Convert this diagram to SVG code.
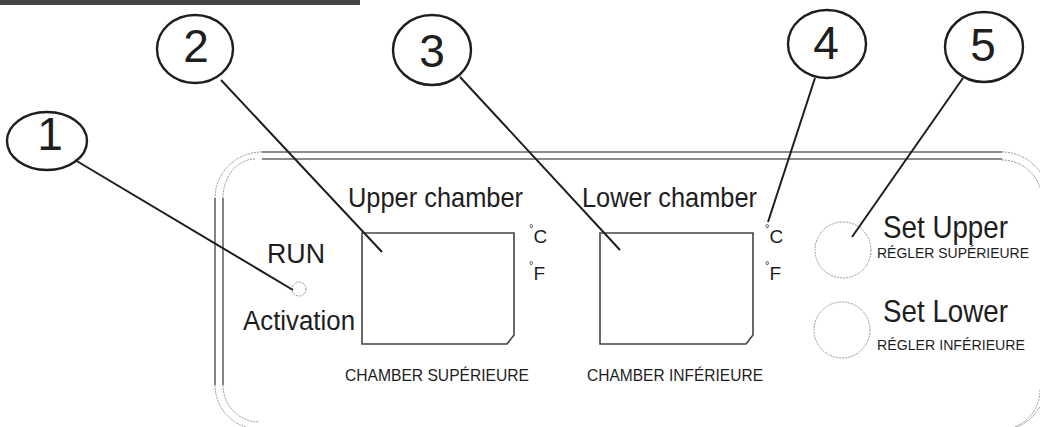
<svg xmlns="http://www.w3.org/2000/svg" width="1040" height="427" viewBox="0 0 1040 427">
<style>
text{font-family:"Liberation Sans",Arial,sans-serif;fill:#1e1e1e}
.num{font-size:46px;text-anchor:middle}
.callout{fill:none;stroke:#1e1e1e;stroke-width:2.4}
.lead{stroke:#1e1e1e;stroke-width:2;fill:none}
.edge{stroke:#666;stroke-width:1.6;fill:none}
.arc{stroke:#999;stroke-width:1;stroke-dasharray:2 1;fill:none}
.disp{stroke:#444;stroke-width:1.6;fill:none}
.knob{stroke:#999;stroke-width:1;stroke-dasharray:2 1;fill:none}
.big{font-size:28px}
.small{font-size:17px}
.tiny{font-size:14px}
.deg{font-size:19px}
</style>
<rect x="0" y="0" width="360" height="5" fill="#444"/>
<g id="panel">
<line class="edge" x1="262" y1="152" x2="1002" y2="152"/>
<line class="edge" x1="262" y1="159" x2="1002" y2="159"/>
<line class="edge" x1="215" y1="198" x2="215" y2="385"/>
<line class="edge" x1="223" y1="198" x2="223" y2="385"/>
<path class="arc" d="M262,152 A47,46 0 0 0 215,198"/>
<path class="arc" d="M255,159 A32,39 0 0 0 223,198"/>
<path class="arc" d="M215,385 A44,44 0 0 0 259,429"/>
<path class="arc" d="M223,385 A36,37 0 0 0 259,422"/>
<path class="arc" d="M1002,152 A46,46 0 0 1 1048,198"/>
<path class="arc" d="M1002,160 A40,40 0 0 1 1042,200"/>
<path class="arc" d="M1046,384 A46,46 0 0 1 1000,430"/>
<path class="arc" d="M1040,390 A40,40 0 0 1 1012,428"/>
</g>
<g id="run-led">
<text x="296" y="263" font-size="28" text-anchor="middle" textLength="58" lengthAdjust="spacingAndGlyphs">RUN</text>
<circle cx="299" cy="289" r="7" class="knob"/>
<text x="243" y="330" font-size="27" textLength="112" lengthAdjust="spacingAndGlyphs">Activation</text>
</g>
<g id="upper-display">
<text x="348" y="207" class="big" textLength="175" lengthAdjust="spacingAndGlyphs">Upper chamber</text>
<path class="disp" d="M362,233 H514 V335 L507,344 H362 Z"/>
<text x="345" y="381" class="small" textLength="184" lengthAdjust="spacingAndGlyphs">CHAMBER SUPÉRIEURE</text>
<text x="529" y="243" class="deg"><tspan font-size="11" dy="-11">°</tspan><tspan dy="11">C</tspan></text>
<text x="529" y="280" class="deg"><tspan font-size="11" dy="-11">°</tspan><tspan dy="11">F</tspan></text>
</g>
<g id="lower-display">
<text x="582" y="207" class="big" textLength="175" lengthAdjust="spacingAndGlyphs">Lower chamber</text>
<path class="disp" d="M600,233 H753 V335 L746,344 H600 Z"/>
<text x="587" y="381" class="small" textLength="176" lengthAdjust="spacingAndGlyphs">CHAMBER INFÉRIEURE</text>
<text x="765" y="243" class="deg"><tspan font-size="11" dy="-11">°</tspan><tspan dy="11">C</tspan></text>
<text x="765" y="280" class="deg"><tspan font-size="11" dy="-11">°</tspan><tspan dy="11">F</tspan></text>
</g>
<g id="set-upper">
<circle cx="843" cy="250" r="28" class="knob"/>
<text x="883" y="238" font-size="32" textLength="125" lengthAdjust="spacingAndGlyphs">Set Upper</text>
<text x="877" y="258" class="tiny" textLength="152" lengthAdjust="spacingAndGlyphs">RÉGLER SUPÉRIEURE</text>
</g>
<g id="set-lower">
<circle cx="842" cy="330" r="28" class="knob"/>
<text x="883" y="322" font-size="32" textLength="125" lengthAdjust="spacingAndGlyphs">Set Lower</text>
<text x="877" y="350" class="tiny" textLength="148" lengthAdjust="spacingAndGlyphs">RÉGLER INFÉRIEURE</text>
</g>
<g id="callout-1"><ellipse class="callout" cx="47" cy="141" rx="40" ry="29"/><text class="num" x="50" y="150">1</text></g>
<g id="callout-2"><ellipse class="callout" cx="195" cy="49" rx="38" ry="34"/><text class="num" x="196" y="62">2</text></g>
<g id="callout-3"><ellipse class="callout" cx="432" cy="50" rx="39" ry="35"/><text class="num" x="432" y="67">3</text></g>
<g id="callout-4"><ellipse class="callout" cx="827" cy="44" rx="39" ry="34"/><text class="num" x="826" y="59">4</text></g>
<g id="callout-5"><ellipse class="callout" cx="984" cy="47" rx="39" ry="35"/><text class="num" x="983" y="61">5</text></g>
<g id="connectors">
<line class="lead" x1="75" y1="160" x2="293" y2="290"/>
<line class="lead" x1="221" y1="80" x2="382" y2="252"/>
<line class="lead" x1="460" y1="77" x2="620" y2="250"/>
<line class="lead" x1="815" y1="78" x2="768" y2="222"/>
<line class="lead" x1="963" y1="78" x2="852" y2="237"/>
</g>
</svg>
